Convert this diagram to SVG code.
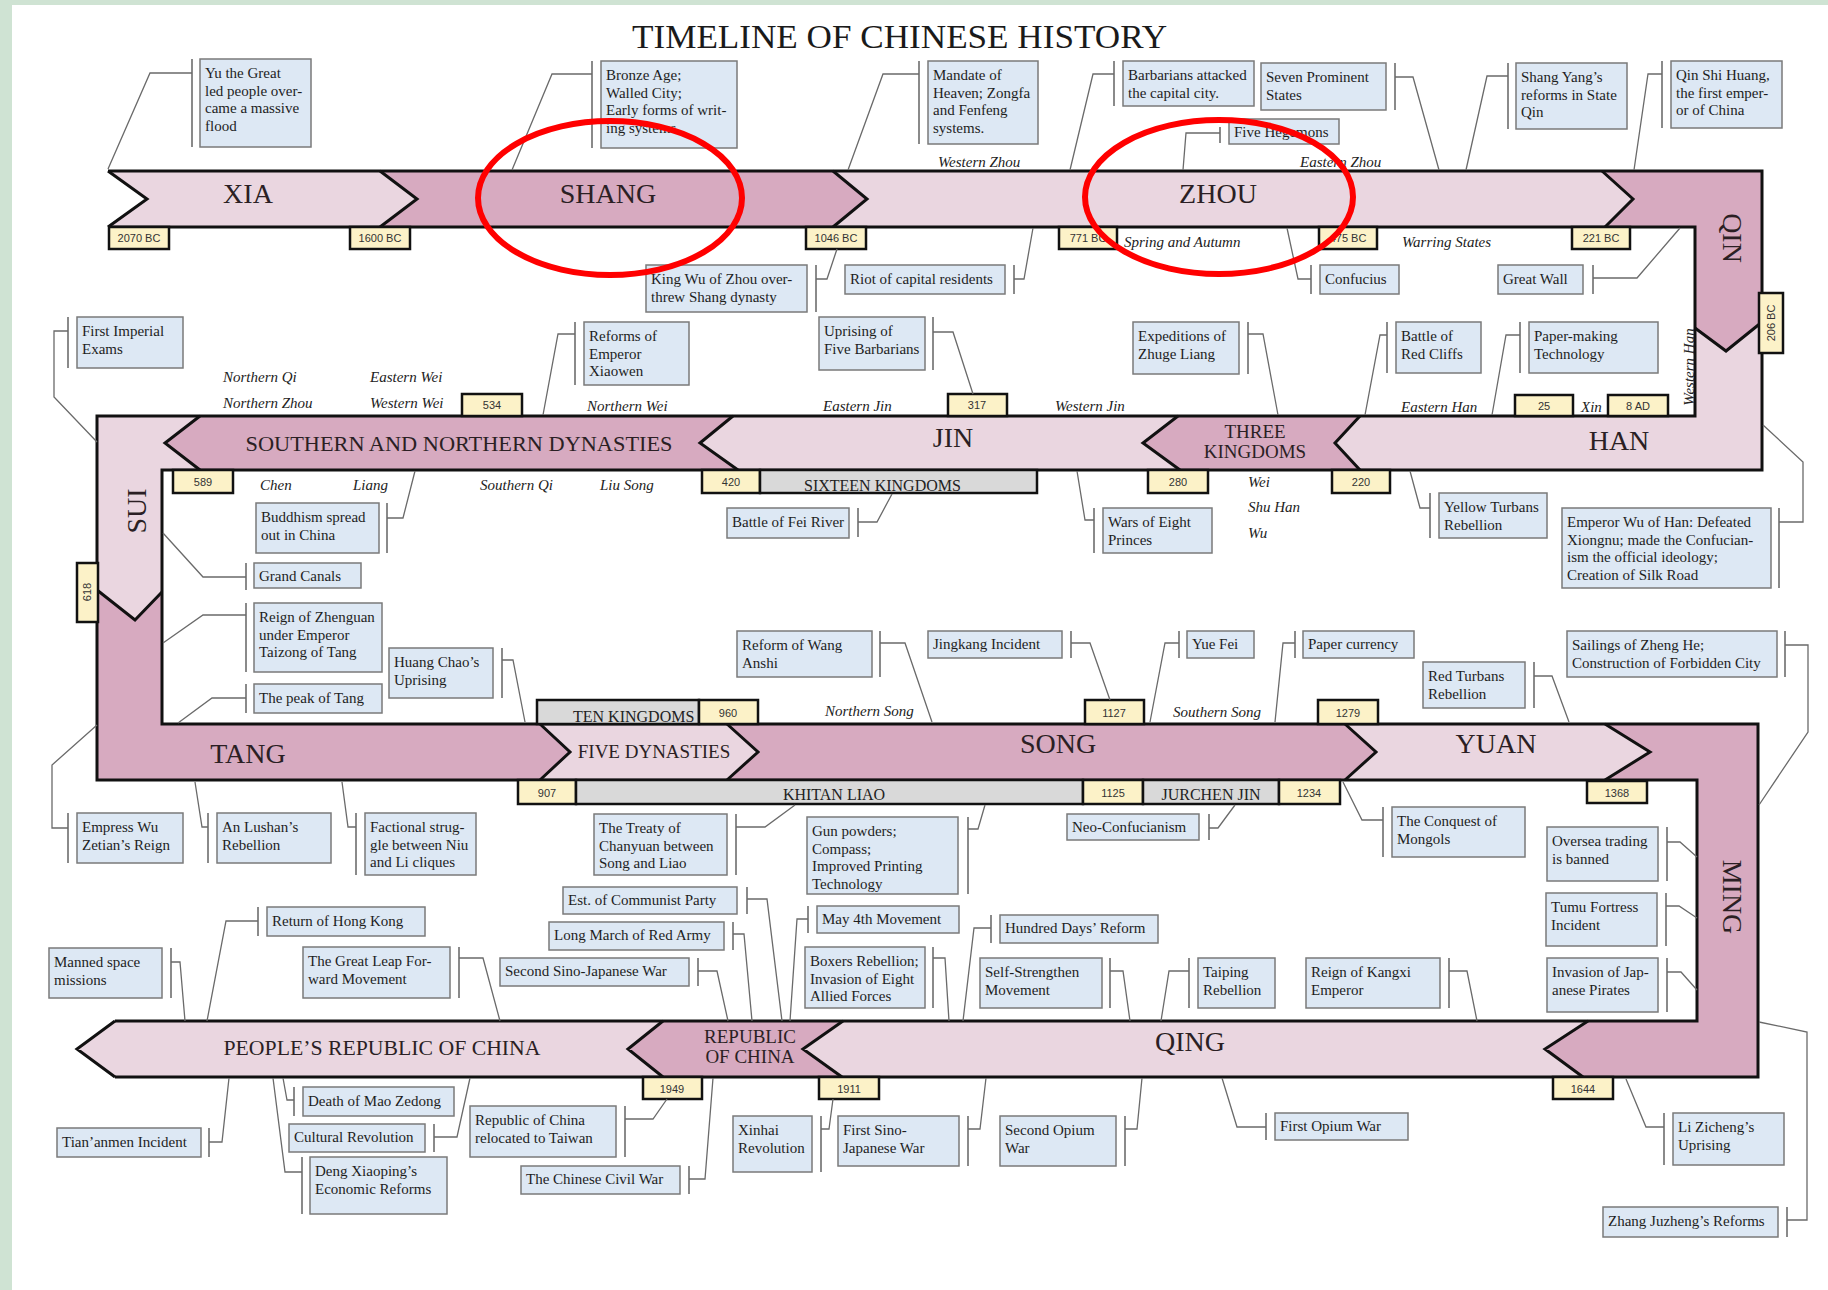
<svg xmlns="http://www.w3.org/2000/svg" width="1828" height="1290" viewBox="0 0 1828 1290">
<style>
.lt{fill:#ead6e0}.dk{fill:#d7aac0}
.edge{stroke:#111;stroke-width:3;fill:none;stroke-linejoin:miter}
.date{fill:#fcf2c8;stroke:#111;stroke-width:2.5}
.gray{fill:#d9d9d9;stroke:#111;stroke-width:2.5}
.dt{font-family:"Liberation Sans",Arial,sans-serif;font-size:11px;fill:#333;text-anchor:middle}
.gt{font-family:"Liberation Serif",serif;font-size:16px;fill:#222}
.it{font-family:"Liberation Serif",serif;font-style:italic;font-size:15px;fill:#222}
.big{font-family:"Liberation Serif",serif;font-size:28px;fill:#2b1f24;text-anchor:middle}
.mid{font-family:"Liberation Serif",serif;font-size:19px;fill:#2b1f24;text-anchor:middle}
.box{fill:#dde8f4;stroke:#7a7a7a;stroke-width:1.5}
.t{font-family:"Liberation Serif",serif;font-size:15px;fill:#1e1e1e}
.br{stroke:#8a8a8a;stroke-width:2;fill:none}
.cn{stroke:#6a6a6a;stroke-width:1.3;fill:none}
.ell{fill:none;stroke:#ff0000;stroke-width:6}
</style>
<rect x="0" y="0" width="1828" height="1290" fill="#ffffff"/>
<rect x="0" y="0" width="1828" height="5" fill="#cfe3d3"/>
<rect x="0" y="0" width="12" height="1290" fill="#cfe3d3"/>
<text x="632" y="48" font-family="Liberation Serif, serif" font-size="34" fill="#1a1a1a" textLength="535" lengthAdjust="spacingAndGlyphs">TIMELINE OF CHINESE HISTORY</text>

<g id="bands">
<polygon class="lt" points="108,171 380,171 417,199 380,227 108,227 147,199"/>
<polygon class="dk" points="380,171 833,171 867,199 833,227 380,227 417,199"/>
<polygon class="lt" points="833,171 1602,171 1633,199 1605,227 833,227 867,199"/>
<polygon class="dk" points="1602,171 1762,171 1762,322 1726,351 1695,328 1695,227 1605,227 1633,199"/>
<polygon class="lt" points="1695,328 1726,351 1762,322 1762,470 1360,470 1335,443 1360,416 1695,416"/>
<polygon class="dk" points="1178,416 1360,416 1335,443 1360,470 1180,470 1143,443"/>
<polygon class="lt" points="733,416 1178,416 1143,443 1180,470 738,470 700,443"/>
<polygon class="dk" points="200,416 733,416 700,443 738,470 200,470 165,443"/>
<polygon class="lt" points="97,416 200,416 165,443 200,470 162,470 162,592 135,620 97,590"/>
<polygon class="dk" points="97,590 135,620 162,592 162,724 540,724 570,752 540,780 97,780"/>
<polygon class="lt" points="540,724 727,724 758,752 727,780 540,780 570,752"/>
<polygon class="dk" points="727,724 1345,724 1376,752 1345,780 727,780 758,752"/>
<polygon class="lt" points="1345,724 1605,724 1650,752 1605,780 1345,780 1376,752"/>
<polygon class="dk" points="1605,724 1758,724 1758,1077 1583,1077 1545,1049 1588,1021 1697,1021 1697,780 1605,780 1650,752"/>
<polygon class="lt" points="843,1021 1588,1021 1545,1049 1583,1077 842,1077 803,1049"/>
<polygon class="dk" points="663,1021 843,1021 803,1049 842,1077 663,1077 628,1049"/>
<polygon class="lt" points="115,1021 663,1021 628,1049 663,1077 115,1077 77,1049"/>
<path class="edge" d="M108,171 H1762 V470 H162 V724 H1758 V1077 H115"/>
<path class="edge" d="M108,227 H1695 V416 H97 V780 H1697 V1021 H115"/>
<path class="edge" d="M108,171 L147,199 L108,227 M380,171 L417,199 L380,227 M833,171 L867,199 L833,227 M1602,171 L1633,199 L1605,227 M1695,328 L1726,351 L1762,322 M1360,416 L1335,443 L1360,470 M1178,416 L1143,443 L1180,470 M733,416 L700,443 L738,470 M200,416 L165,443 L200,470 M97,590 L135,620 L162,592 M540,724 L570,752 L540,780 M727,724 L758,752 L727,780 M1345,724 L1376,752 L1345,780 M1605,724 L1650,752 L1605,780 M1588,1021 L1545,1049 L1583,1077 M843,1021 L803,1049 L842,1077 M663,1021 L628,1049 L663,1077 M115,1021 L77,1049 L115,1077"/>
<text class="big" x="248" y="203">XIA</text>
<text class="big" x="608" y="203">SHANG</text>
<text class="big" x="1218" y="203">ZHOU</text>
<text class="big" transform="translate(1723,238) rotate(90)" x="0" y="0">QIN</text>
<text class="big" x="1619" y="450">HAN</text>
<text class="mid" x="1255" y="438">THREE</text>
<text class="mid" x="1255" y="458">KINGDOMS</text>
<text class="big" x="953" y="447">JIN</text>
<text x="459" y="451" font-family="Liberation Serif, serif" font-size="22" fill="#2b1f24" text-anchor="middle" textLength="427" lengthAdjust="spacingAndGlyphs">SOUTHERN AND NORTHERN DYNASTIES</text>
<text class="big" transform="translate(146,511) rotate(-90)" x="0" y="0">SUI</text>
<text class="big" x="248" y="763">TANG</text>
<text class="mid" x="654" y="758" font-size="18.5">FIVE DYNASTIES</text>
<text class="big" x="1058" y="753">SONG</text>
<text class="big" x="1496" y="753">YUAN</text>
<text class="big" transform="translate(1723,897) rotate(90)" x="0" y="0">MING</text>
<text class="big" x="1190" y="1051">QING</text>
<text class="mid" x="750" y="1043" font-size="18.5">REPUBLIC</text>
<text class="mid" x="750" y="1063" font-size="18.5">OF CHINA</text>
<text x="382" y="1055" font-family="Liberation Serif, serif" font-size="22" fill="#2b1f24" text-anchor="middle" textLength="317" lengthAdjust="spacingAndGlyphs">PEOPLE’S REPUBLIC OF CHINA</text>
</g>

<g id="dates">
<rect class="date" x="109" y="227" width="60" height="22"/><text class="dt" x="139" y="242">2070 BC</text>
<rect class="date" x="350" y="227" width="60" height="22"/><text class="dt" x="380" y="242">1600 BC</text>
<rect class="date" x="806" y="227" width="60" height="22"/><text class="dt" x="836" y="242">1046 BC</text>
<rect class="date" x="1059" y="227" width="58" height="22"/><text class="dt" x="1088" y="242">771 BC</text>
<rect class="date" x="1319" y="227" width="58" height="22"/><text class="dt" x="1348" y="242">475 BC</text>
<rect class="date" x="1572" y="227" width="58" height="22"/><text class="dt" x="1601" y="242">221 BC</text>
<rect class="date" x="1759" y="293" width="24" height="60"/><text class="dt" transform="translate(1775,323) rotate(-90)" x="0" y="0">206 BC</text>
<rect class="date" x="462" y="394" width="60" height="22"/><text class="dt" x="492" y="409">534</text>
<rect class="date" x="948" y="394" width="59" height="22"/><text class="dt" x="977" y="409">317</text>
<rect class="date" x="1515" y="395" width="58" height="21"/><text class="dt" x="1544" y="410">25</text>
<rect class="date" x="1608" y="395" width="60" height="21"/><text class="dt" x="1638" y="410">8 AD</text>
<rect class="date" x="173" y="470" width="60" height="23"/><text class="dt" x="203" y="486">589</text>
<rect class="date" x="702" y="470" width="58" height="23"/><text class="dt" x="731" y="486">420</text>
<rect class="gray" x="760" y="470" width="277" height="23"/><text class="gt" x="804" y="491">SIXTEEN KINGDOMS</text>
<rect class="date" x="1148" y="470" width="60" height="23"/><text class="dt" x="1178" y="486">280</text>
<rect class="date" x="1332" y="470" width="58" height="23"/><text class="dt" x="1361" y="486">220</text>
<rect class="date" x="77" y="563" width="21" height="59"/><text class="dt" transform="translate(91,592) rotate(-90)" x="0" y="0">618</text>
<rect class="gray" x="537" y="700" width="162" height="24"/><text class="gt" x="573" y="722">TEN KINGDOMS</text>
<rect class="date" x="699" y="700" width="59" height="24"/><text class="dt" x="728" y="717">960</text>
<rect class="date" x="1085" y="700" width="59" height="24"/><text class="dt" x="1114" y="717">1127</text>
<rect class="date" x="1318" y="700" width="60" height="24"/><text class="dt" x="1348" y="717">1279</text>
<rect class="date" x="518" y="780" width="58" height="24"/><text class="dt" x="547" y="797">907</text>
<rect class="gray" x="576" y="780" width="507" height="24"/><text class="gt" x="834" y="800" text-anchor="middle">KHITAN LIAO</text>
<rect class="date" x="1083" y="780" width="60" height="24"/><text class="dt" x="1113" y="797">1125</text>
<rect class="gray" x="1143" y="780" width="136" height="24"/><text class="gt" x="1211" y="800" text-anchor="middle">JURCHEN JIN</text>
<rect class="date" x="1279" y="780" width="61" height="24"/><text class="dt" x="1309" y="797">1234</text>
<rect class="date" x="1587" y="781" width="60" height="22"/><text class="dt" x="1617" y="797">1368</text>
<rect class="date" x="643" y="1077" width="59" height="22"/><text class="dt" x="672" y="1093">1949</text>
<rect class="date" x="819" y="1077" width="60" height="22"/><text class="dt" x="849" y="1093">1911</text>
<rect class="date" x="1553" y="1077" width="60" height="22"/><text class="dt" x="1583" y="1093">1644</text>
</g>

<g id="periods">
<text class="it" x="938" y="167">Western Zhou</text>
<text class="it" x="1300" y="167">Eastern Zhou</text>
<text class="it" x="1124" y="247">Spring and Autumn</text>
<text class="it" x="1402" y="247">Warring States</text>
<text class="it" x="223" y="382">Northern Qi</text>
<text class="it" x="223" y="408">Northern Zhou</text>
<text class="it" x="370" y="382">Eastern Wei</text>
<text class="it" x="370" y="408">Western Wei</text>
<text class="it" x="587" y="411">Northern Wei</text>
<text class="it" x="823" y="411">Eastern Jin</text>
<text class="it" x="1055" y="411">Western Jin</text>
<text class="it" x="1401" y="412">Eastern Han</text>
<text class="it" x="1581" y="412">Xin</text>
<text class="it" transform="translate(1694,367) rotate(-90)" x="0" y="0" text-anchor="middle">Western Han</text>
<text class="it" x="260" y="490">Chen</text>
<text class="it" x="353" y="490">Liang</text>
<text class="it" x="480" y="490">Southern Qi</text>
<text class="it" x="600" y="490">Liu Song</text>
<text class="it" x="1248" y="487">Wei</text>
<text class="it" x="1248" y="512">Shu Han</text>
<text class="it" x="1248" y="538">Wu</text>
<text class="it" x="825" y="716">Northern Song</text>
<text class="it" x="1173" y="717">Southern Song</text>
</g>

<g id="connectors">
<path class="br" d="M192,59V147 M592,61V148 M919,61V144 M1114,61V106 M1395,63V110 M1220,127V143 M1508,63V129 M1662,61V128 M816,265V312 M1014,265V294 M1311,265V294 M1593,265V294 M68,317V368 M575,322V385 M933,317V370 M1248,322V374 M1387,322V373 M1520,322V373 M387,503V553 M246,563V590 M246,603V672 M246,684V713 M502,648V698 M858,508V537 M1094,508V553 M1430,493V538 M1779,508V588 M880,631V677 M1071,631V658 M1179,631V658 M1295,631V658 M1534,662V708 M1785,631V677 M68,813V863 M208,813V863 M356,813V875 M736,814V875 M968,817V894 M1209,814V840 M1383,807V857 M1667,827V881 M1666,893V946 M1667,958V1012 M171,948V998 M258,907V936 M459,947V998 M747,887V914 M733,922V950 M698,958V986 M808,906V933 M933,947V1008 M991,915V943 M1110,958V1008 M1189,958V1008 M1449,958V1008 M209,1128V1157 M294,1087V1116 M434,1124V1152 M302,1157V1214 M625,1106V1157 M689,1166V1194 M821,1116V1172 M968,1116V1166 M1125,1116V1166 M1266,1113V1140 M1664,1113V1165 M1787,1207V1237"/>
<path class="cn" d="M192,73H150L108,169 M592,74H552L512,170 M919,74H883L848,170 M1114,74H1093L1070,170 M1395,77H1413L1439,170 M1220,133H1186L1183,170 M1508,76H1487L1466,170 M1662,74H1648L1634,170 M816,279H827L837,249 M1014,279H1024L1033,228 M1311,279H1298L1287,228 M1593,278H1637L1680,228 M68,331H54V397L97,442 M575,334H558L543,415 M933,332H953L973,394 M1248,334H1263L1278,415 M1387,335H1380L1365,415 M1520,335H1506L1492,415 M387,518H403L415,471 M246,577H203L163,533 M246,615H203L163,643 M246,698H212L178,723 M502,660H513L525,722 M858,522H877L892,494 M1094,520H1085L1077,471 M1430,508H1420L1410,471 M1779,522H1803V462L1763,425 M880,643H905L932,722 M1071,643H1090L1110,700 M1179,643H1165L1150,722 M1295,643H1283L1275,722 M1534,676H1552L1569,722 M1785,645H1808V732L1759,805 M68,828H52V765L97,725 M208,827H202L195,782 M356,827H348L342,782 M736,827H765L795,805 M968,829H978L985,805 M1209,828H1218L1235,805 M1383,820H1362L1343,782 M1667,842H1680L1697,857 M1666,906H1679L1697,918 M1667,972H1681L1697,990 M171,962H180L185,1021 M258,921H226L207,1021 M459,958H483L500,1021 M747,899H767L782,1021 M733,934H744L752,1021 M698,971H717L728,1021 M808,919H797L790,1021 M933,958H945L949,1021 M991,928H974L963,1021 M1110,971H1123L1130,1021 M1189,971H1169L1161,1021 M1449,971H1467L1477,1021 M209,1142H222L229,1078 M294,1100H287L283,1078 M434,1137H457L470,1078 M302,1172H285L273,1078 M625,1119H653L667,1099 M689,1179H705L713,1078 M821,1129H829L833,1099 M968,1129H980L986,1078 M1125,1129H1137L1142,1078 M1266,1127H1237L1222,1078 M1664,1127H1646L1626,1079 M1787,1220H1807V1032L1759,1022"/>
</g>

<g id="n-yu"><rect class="box" x="200" y="59" width="111" height="88"/><text class="t" x="205" y="78"><tspan x="205">Yu the Great</tspan><tspan x="205" dy="17.5">led people over-</tspan><tspan x="205" dy="17.5">came a massive</tspan><tspan x="205" dy="17.5">flood</tspan></text></g>
<g id="n-bronze"><rect class="box" x="601" y="61" width="136" height="87"/><text class="t" x="606" y="80"><tspan x="606">Bronze Age;</tspan><tspan x="606" dy="17.5">Walled City;</tspan><tspan x="606" dy="17.5">Early forms of writ-</tspan><tspan x="606" dy="17.5">ing systems.</tspan></text></g>
<g id="n-mandate"><rect class="box" x="928" y="61" width="110" height="83"/><text class="t" x="933" y="80"><tspan x="933">Mandate of</tspan><tspan x="933" dy="17.5">Heaven; Zongfa</tspan><tspan x="933" dy="17.5">and Fenfeng</tspan><tspan x="933" dy="17.5">systems.</tspan></text></g>
<g id="n-barbarians"><rect class="box" x="1123" y="61" width="131" height="45"/><text class="t" x="1128" y="80"><tspan x="1128">Barbarians attacked</tspan><tspan x="1128" dy="17.5">the capital city.</tspan></text></g>
<g id="n-seven"><rect class="box" x="1261" y="63" width="125" height="47"/><text class="t" x="1266" y="82"><tspan x="1266">Seven Prominent</tspan><tspan x="1266" dy="17.5">States</tspan></text></g>
<g id="n-hegemons"><rect class="box" x="1229" y="119" width="110" height="25"/><text class="t" x="1234" y="137">Five Hegemons</text></g>
<g id="n-shangyang"><rect class="box" x="1516" y="63" width="111" height="66"/><text class="t" x="1521" y="82"><tspan x="1521">Shang Yang’s</tspan><tspan x="1521" dy="17.5">reforms in State</tspan><tspan x="1521" dy="17.5">Qin</tspan></text></g>
<g id="n-qinshihuang"><rect class="box" x="1671" y="61" width="111" height="67"/><text class="t" x="1676" y="80"><tspan x="1676">Qin Shi Huang,</tspan><tspan x="1676" dy="17.5">the first emper-</tspan><tspan x="1676" dy="17.5">or of China</tspan></text></g>
<g id="n-kingwu"><rect class="box" x="646" y="265" width="161" height="47"/><text class="t" x="651" y="284"><tspan x="651">King Wu of Zhou over-</tspan><tspan x="651" dy="17.5">threw Shang dynasty</tspan></text></g>
<g id="n-riot"><rect class="box" x="845" y="265" width="160" height="29"/><text class="t" x="850" y="284">Riot of capital residents</text></g>
<g id="n-confucius"><rect class="box" x="1320" y="265" width="79" height="29"/><text class="t" x="1325" y="284">Confucius</text></g>
<g id="n-greatwall"><rect class="box" x="1498" y="265" width="85" height="29"/><text class="t" x="1503" y="284">Great Wall</text></g>
<g id="n-exams"><rect class="box" x="77" y="317" width="106" height="51"/><text class="t" x="82" y="336"><tspan x="82">First Imperial</tspan><tspan x="82" dy="17.5">Exams</tspan></text></g>
<g id="n-xiaowen"><rect class="box" x="584" y="322" width="105" height="63"/><text class="t" x="589" y="341"><tspan x="589">Reforms of</tspan><tspan x="589" dy="17.5">Emperor</tspan><tspan x="589" dy="17.5">Xiaowen</tspan></text></g>
<g id="n-fivebarb"><rect class="box" x="819" y="317" width="106" height="53"/><text class="t" x="824" y="336"><tspan x="824">Uprising of</tspan><tspan x="824" dy="17.5">Five Barbarians</tspan></text></g>
<g id="n-zhuge"><rect class="box" x="1133" y="322" width="106" height="52"/><text class="t" x="1138" y="341"><tspan x="1138">Expeditions of</tspan><tspan x="1138" dy="17.5">Zhuge Liang</tspan></text></g>
<g id="n-redcliffs"><rect class="box" x="1396" y="322" width="85" height="51"/><text class="t" x="1401" y="341"><tspan x="1401">Battle of</tspan><tspan x="1401" dy="17.5">Red Cliffs</tspan></text></g>
<g id="n-paper"><rect class="box" x="1529" y="322" width="129" height="51"/><text class="t" x="1534" y="341"><tspan x="1534">Paper-making</tspan><tspan x="1534" dy="17.5">Technology</tspan></text></g>
<g id="n-buddhism"><rect class="box" x="256" y="503" width="123" height="50"/><text class="t" x="261" y="522"><tspan x="261">Buddhism spread</tspan><tspan x="261" dy="17.5">out in China</tspan></text></g>
<g id="n-canals"><rect class="box" x="254" y="563" width="107" height="25"/><text class="t" x="259" y="581">Grand Canals</text></g>
<g id="n-zhenguan"><rect class="box" x="254" y="603" width="128" height="69"/><text class="t" x="259" y="622"><tspan x="259">Reign of Zhenguan</tspan><tspan x="259" dy="17.5">under Emperor</tspan><tspan x="259" dy="17.5">Taizong of Tang</tspan></text></g>
<g id="n-peak"><rect class="box" x="254" y="684" width="128" height="29"/><text class="t" x="259" y="703">The peak of Tang</text></g>
<g id="n-huangchao"><rect class="box" x="389" y="648" width="104" height="50"/><text class="t" x="394" y="667"><tspan x="394">Huang Chao’s</tspan><tspan x="394" dy="17.5">Uprising</tspan></text></g>
<g id="n-fei"><rect class="box" x="727" y="508" width="122" height="30"/><text class="t" x="732" y="527">Battle of Fei River</text></g>
<g id="n-eight"><rect class="box" x="1103" y="508" width="109" height="45"/><text class="t" x="1108" y="527"><tspan x="1108">Wars of Eight</tspan><tspan x="1108" dy="17.5">Princes</tspan></text></g>
<g id="n-yellow"><rect class="box" x="1439" y="493" width="108" height="45"/><text class="t" x="1444" y="512"><tspan x="1444">Yellow Turbans</tspan><tspan x="1444" dy="17.5">Rebellion</tspan></text></g>
<g id="n-wuhan"><rect class="box" x="1562" y="508" width="209" height="80"/><text class="t" x="1567" y="527"><tspan x="1567">Emperor Wu of Han: Defeated</tspan><tspan x="1567" dy="17.5">Xiongnu; made the Confucian-</tspan><tspan x="1567" dy="17.5">ism the official ideology;</tspan><tspan x="1567" dy="17.5">Creation of Silk Road</tspan></text></g>
<g id="n-wanganshi"><rect class="box" x="737" y="631" width="135" height="46"/><text class="t" x="742" y="650"><tspan x="742">Reform of Wang</tspan><tspan x="742" dy="17.5">Anshi</tspan></text></g>
<g id="n-jingkang"><rect class="box" x="928" y="631" width="134" height="27"/><text class="t" x="933" y="649">Jingkang Incident</text></g>
<g id="n-yuefei"><rect class="box" x="1187" y="631" width="67" height="27"/><text class="t" x="1192" y="649">Yue Fei</text></g>
<g id="n-currency"><rect class="box" x="1303" y="631" width="111" height="27"/><text class="t" x="1308" y="649">Paper currency</text></g>
<g id="n-redturbans"><rect class="box" x="1423" y="662" width="102" height="46"/><text class="t" x="1428" y="681"><tspan x="1428">Red Turbans</tspan><tspan x="1428" dy="17.5">Rebellion</tspan></text></g>
<g id="n-zhenghe"><rect class="box" x="1567" y="631" width="210" height="46"/><text class="t" x="1572" y="650"><tspan x="1572">Sailings of Zheng He;</tspan><tspan x="1572" dy="17.5">Construction of Forbidden City</tspan></text></g>
<g id="n-wuzetian"><rect class="box" x="77" y="813" width="106" height="50"/><text class="t" x="82" y="832"><tspan x="82">Empress Wu</tspan><tspan x="82" dy="17.5">Zetian’s Reign</tspan></text></g>
<g id="n-anlushan"><rect class="box" x="217" y="813" width="114" height="50"/><text class="t" x="222" y="832"><tspan x="222">An Lushan’s</tspan><tspan x="222" dy="17.5">Rebellion</tspan></text></g>
<g id="n-factional"><rect class="box" x="365" y="813" width="111" height="62"/><text class="t" x="370" y="832"><tspan x="370">Factional strug-</tspan><tspan x="370" dy="17.5">gle between Niu</tspan><tspan x="370" dy="17.5">and Li cliques</tspan></text></g>
<g id="n-chanyuan"><rect class="box" x="594" y="814" width="133" height="61"/><text class="t" x="599" y="833"><tspan x="599">The Treaty of</tspan><tspan x="599" dy="17.5">Chanyuan between</tspan><tspan x="599" dy="17.5">Song and Liao</tspan></text></g>
<g id="n-gunpowder"><rect class="box" x="807" y="817" width="151" height="77"/><text class="t" x="812" y="836"><tspan x="812">Gun powders;</tspan><tspan x="812" dy="17.5">Compass;</tspan><tspan x="812" dy="17.5">Improved Printing</tspan><tspan x="812" dy="17.5">Technology</tspan></text></g>
<g id="n-neoconf"><rect class="box" x="1067" y="814" width="132" height="26"/><text class="t" x="1072" y="832">Neo-Confucianism</text></g>
<g id="n-mongols"><rect class="box" x="1392" y="807" width="133" height="50"/><text class="t" x="1397" y="826"><tspan x="1397">The Conquest of</tspan><tspan x="1397" dy="17.5">Mongols</tspan></text></g>
<g id="n-oversea"><rect class="box" x="1547" y="827" width="111" height="54"/><text class="t" x="1552" y="846"><tspan x="1552">Oversea trading</tspan><tspan x="1552" dy="17.5">is banned</tspan></text></g>
<g id="n-tumu"><rect class="box" x="1546" y="893" width="111" height="53"/><text class="t" x="1551" y="912"><tspan x="1551">Tumu Fortress</tspan><tspan x="1551" dy="17.5">Incident</tspan></text></g>
<g id="n-pirates"><rect class="box" x="1547" y="958" width="111" height="54"/><text class="t" x="1552" y="977"><tspan x="1552">Invasion of Jap-</tspan><tspan x="1552" dy="17.5">anese Pirates</tspan></text></g>
<g id="n-manned"><rect class="box" x="49" y="948" width="113" height="50"/><text class="t" x="54" y="967"><tspan x="54">Manned space</tspan><tspan x="54" dy="17.5">missions</tspan></text></g>
<g id="n-hongkong"><rect class="box" x="267" y="907" width="158" height="29"/><text class="t" x="272" y="926">Return of Hong Kong</text></g>
<g id="n-greatleap"><rect class="box" x="303" y="947" width="147" height="51"/><text class="t" x="308" y="966"><tspan x="308">The Great Leap For-</tspan><tspan x="308" dy="17.5">ward Movement</tspan></text></g>
<g id="n-communist"><rect class="box" x="563" y="887" width="174" height="27"/><text class="t" x="568" y="905">Est. of Communist Party</text></g>
<g id="n-longmarch"><rect class="box" x="549" y="922" width="175" height="28"/><text class="t" x="554" y="940">Long March of Red Army</text></g>
<g id="n-sinojap2"><rect class="box" x="500" y="958" width="189" height="28"/><text class="t" x="505" y="976">Second Sino-Japanese War</text></g>
<g id="n-may4"><rect class="box" x="817" y="906" width="142" height="27"/><text class="t" x="822" y="924">May 4th Movement</text></g>
<g id="n-boxers"><rect class="box" x="805" y="947" width="120" height="61"/><text class="t" x="810" y="966"><tspan x="810">Boxers Rebellion;</tspan><tspan x="810" dy="17.5">Invasion of Eight</tspan><tspan x="810" dy="17.5">Allied Forces</tspan></text></g>
<g id="n-hundred"><rect class="box" x="1000" y="915" width="158" height="28"/><text class="t" x="1005" y="933">Hundred Days’ Reform</text></g>
<g id="n-selfstr"><rect class="box" x="980" y="958" width="122" height="50"/><text class="t" x="985" y="977"><tspan x="985">Self-Strengthen</tspan><tspan x="985" dy="17.5">Movement</tspan></text></g>
<g id="n-taiping"><rect class="box" x="1198" y="958" width="77" height="50"/><text class="t" x="1203" y="977"><tspan x="1203">Taiping</tspan><tspan x="1203" dy="17.5">Rebellion</tspan></text></g>
<g id="n-kangxi"><rect class="box" x="1306" y="958" width="134" height="50"/><text class="t" x="1311" y="977"><tspan x="1311">Reign of Kangxi</tspan><tspan x="1311" dy="17.5">Emperor</tspan></text></g>
<g id="n-tiananmen"><rect class="box" x="57" y="1128" width="144" height="29"/><text class="t" x="62" y="1147">Tian’anmen Incident</text></g>
<g id="n-mao"><rect class="box" x="303" y="1087" width="151" height="29"/><text class="t" x="308" y="1106">Death of Mao Zedong</text></g>
<g id="n-cultural"><rect class="box" x="289" y="1124" width="136" height="28"/><text class="t" x="294" y="1142">Cultural Revolution</text></g>
<g id="n-deng"><rect class="box" x="310" y="1157" width="137" height="57"/><text class="t" x="315" y="1176"><tspan x="315">Deng Xiaoping’s</tspan><tspan x="315" dy="17.5">Economic Reforms</tspan></text></g>
<g id="n-taiwan"><rect class="box" x="470" y="1106" width="146" height="51"/><text class="t" x="475" y="1125"><tspan x="475">Republic of China</tspan><tspan x="475" dy="17.5">relocated to Taiwan</tspan></text></g>
<g id="n-civilwar"><rect class="box" x="521" y="1166" width="159" height="28"/><text class="t" x="526" y="1184">The Chinese Civil War</text></g>
<g id="n-xinhai"><rect class="box" x="733" y="1116" width="79" height="56"/><text class="t" x="738" y="1135"><tspan x="738">Xinhai</tspan><tspan x="738" dy="17.5">Revolution</tspan></text></g>
<g id="n-sinojap1"><rect class="box" x="838" y="1116" width="121" height="50"/><text class="t" x="843" y="1135"><tspan x="843">First Sino-</tspan><tspan x="843" dy="17.5">Japanese War</tspan></text></g>
<g id="n-opium2"><rect class="box" x="1000" y="1116" width="116" height="50"/><text class="t" x="1005" y="1135"><tspan x="1005">Second Opium</tspan><tspan x="1005" dy="17.5">War</tspan></text></g>
<g id="n-opium1"><rect class="box" x="1275" y="1113" width="133" height="27"/><text class="t" x="1280" y="1131">First Opium War</text></g>
<g id="n-lizicheng"><rect class="box" x="1673" y="1113" width="111" height="52"/><text class="t" x="1678" y="1132"><tspan x="1678">Li Zicheng’s</tspan><tspan x="1678" dy="17.5">Uprising</tspan></text></g>
<g id="n-zhangjuzheng"><rect class="box" x="1603" y="1207" width="175" height="30"/><text class="t" x="1608" y="1226">Zhang Juzheng’s Reforms</text></g>

<g id="highlights">
<ellipse class="ell" cx="610" cy="198" rx="132" ry="77"/>
<ellipse class="ell" cx="1219" cy="197" rx="134" ry="77"/>
</g>
</svg>
